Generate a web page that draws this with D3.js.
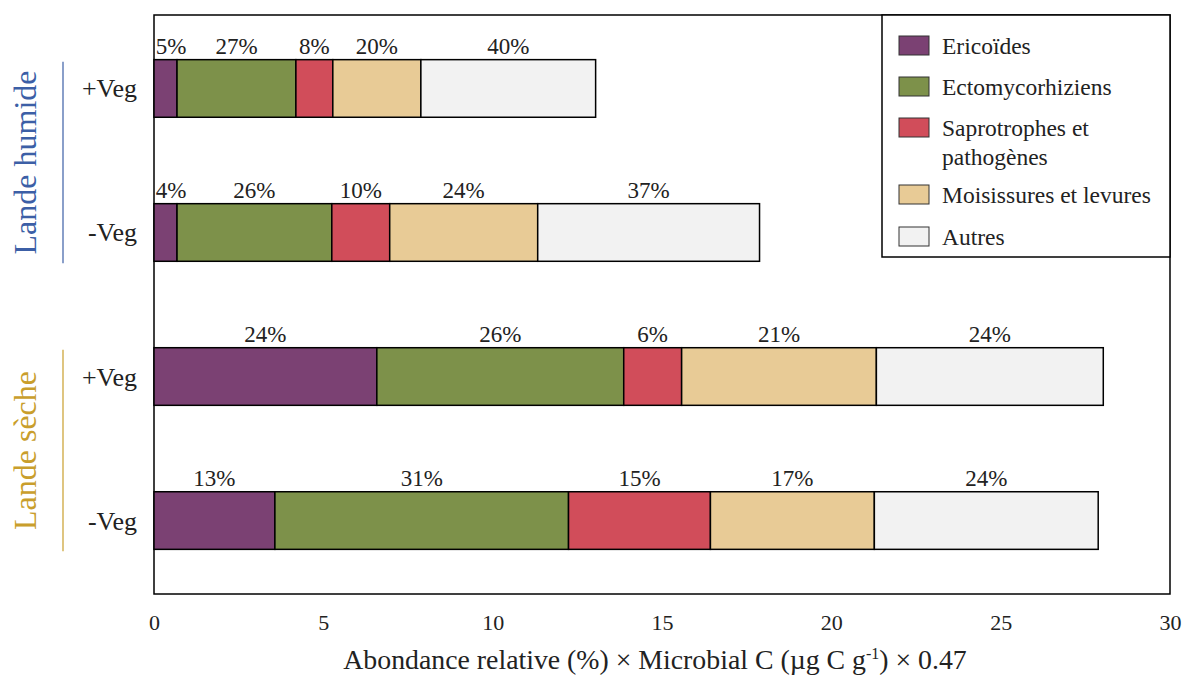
<!DOCTYPE html>
<html lang="fr">
<head>
<meta charset="UTF-8">
<title>Abondance relative</title>
<script src="https://d3js.org/d3.v7.min.js"></script>
<style>
  body { margin: 0; background: #fff; }
  svg, svg text { font-family: "Liberation Serif", "Times New Roman", serif; }
</style>
</head>
<body>
<svg id="chart" width="1185" height="675"></svg>
<script>
// categories and values
const rows = ["hum+", "hum-", "sec+", "sec-"];
const rowLabels = ["+Veg", "-Veg", "+Veg", "-Veg"];
const groups = ["Lande humide", "Lande sèche"];
const groupColors = ["#3c5fa6", "#c99e2c"];
const groupRows = [["hum+", "hum-"], ["sec+", "sec-"]];

const series = ["Ericoïdes", "Ectomycorhiziens", "Saprotrophes et pathogènes", "Moisissures et levures", "Autres"];
const colors = ["#7b4173", "#7d914a", "#d14d5a", "#e8cb96", "#f2f2f2"];

const ericoides   = [0.68, 0.68, 6.58, 3.57];
const ecto        = [3.51, 4.57, 7.29, 8.67];
const sapro       = [1.09, 1.71, 1.71, 4.19];
const moisissures = [2.60, 4.37, 5.75, 4.84];
const autres      = [5.16, 6.55, 6.70, 6.61];

const pctLabels = [
  ["5%", "27%", "8%", "20%", "40%"],
  ["4%", "26%", "10%", "24%", "37%"],
  ["24%", "26%", "6%", "21%", "24%"],
  ["13%", "31%", "15%", "17%", "24%"]
];

const xTicks = [0, 5, 10, 15, 20, 25, 30];

const svg = d3.select("#chart");
const margin = {left: 154, right: 15, top: 15, bottom: 81};
const W = 1185, H = 675;

const x = d3.scaleLinear().domain([0, 30]).range([margin.left, W - margin.right]);
const y = d3.scaleBand().domain(rows).range([margin.top, H - margin.bottom])
  .paddingInner(0.6).paddingOuter(0.31);

const table = rows.map((r, i) => ({
  row: r,
  "Ericoïdes": ericoides[i],
  "Ectomycorhiziens": ecto[i],
  "Saprotrophes et pathogènes": sapro[i],
  "Moisissures et levures": moisissures[i],
  "Autres": autres[i]
}));
const stacked = d3.stack().keys(series)(table);

// plot frame
svg.append("rect")
  .attr("x", x(0)).attr("y", margin.top)
  .attr("width", x(30) - x(0)).attr("height", H - margin.bottom - margin.top)
  .attr("fill", "none").attr("stroke", "#000").attr("stroke-width", 1.5);

// bars
const layer = svg.append("g").selectAll("g")
  .data(stacked).join("g")
  .attr("fill", (d, i) => colors[i]);

layer.selectAll("rect")
  .data(d => d)
  .join("rect")
  .attr("x", d => x(d[0]))
  .attr("y", d => y(d.data.row))
  .attr("width", d => x(d[1]) - x(d[0]))
  .attr("height", y.bandwidth())
  .attr("stroke", "#000")
  .attr("stroke-width", 1.5);

// percent labels above segments
stacked.forEach((s, si) => {
  s.forEach((d, ri) => {
    let cx = (x(d[0]) + x(d[1])) / 2;
    const txt = pctLabels[ri][si];
    const halfW = txt.length * 7;
    if (cx - halfW < x(0) + 3) cx = x(0) + 3 + halfW;
    svg.append("text")
      .attr("x", cx)
      .attr("y", y(d.data.row) - 6)
      .attr("text-anchor", "middle")
      .attr("font-size", 23)
      .attr("fill", "#222")
      .text(txt);
  });
});

// row labels
svg.append("g").selectAll("text")
  .data(rows).join("text")
  .attr("x", 137)
  .attr("y", d => y(d) + y.bandwidth() / 2 + 9)
  .attr("text-anchor", "end")
  .attr("font-size", 26)
  .attr("fill", "#222")
  .text((d, i) => rowLabels[i]);

// group labels with separator lines
groups.forEach((g, gi) => {
  const r = groupRows[gi];
  const y0 = y(r[0]), y1 = y(r[1]) + y.bandwidth();
  svg.append("line")
    .attr("x1", 63).attr("x2", 63)
    .attr("y1", y0 + 2).attr("y2", y1 + 2)
    .attr("stroke", groupColors[gi]).attr("stroke-width", 1.2);
  const cy = (y0 + y1) / 2;
  svg.append("text")
    .attr("transform", `translate(36,${cy + 2}) rotate(-90)`)
    .attr("text-anchor", "middle")
    .attr("font-size", 32)
    .attr("fill", groupColors[gi])
    .text(g);
});

// x axis labels (no tick marks)
const xAxis = svg.append("g")
  .attr("transform", `translate(0,${H - margin.bottom})`)
  .call(d3.axisBottom(x).tickValues(xTicks).tickSize(0).tickPadding(20).tickFormat(d3.format("d")));
xAxis.attr("font-family", null);
xAxis.select(".domain").remove();
xAxis.selectAll("text")
  .attr("font-size", 22)
  .attr("fill", "#222");

// x axis title
const title = svg.append("text")
  .attr("x", 655)
  .attr("y", 669)
  .attr("text-anchor", "middle")
  .attr("font-size", 27.8)
  .attr("fill", "#222");
title.append("tspan").text("Abondance relative (%) × Microbial C (µg C g");
title.append("tspan").attr("font-size", 16).attr("dy", -10).text("-1");
title.append("tspan").attr("dy", 10).text(") × 0.47");

// legend
const lg = svg.append("g").attr("transform", "translate(882,15)");
lg.append("rect").attr("width", 288).attr("height", 242)
  .attr("fill", "#fff").attr("stroke", "#000").attr("stroke-width", 1.5);
const legendY = [31, 72, 113, 180, 222];
series.forEach((s, i) => {
  lg.append("rect")
    .attr("x", 17).attr("y", legendY[i] - 10)
    .attr("width", 30).attr("height", 19)
    .attr("fill", colors[i]).attr("stroke", "#333").attr("stroke-width", 1);
  const t = lg.append("text")
    .attr("x", 60).attr("y", legendY[i] + 8)
    .attr("font-size", 23.5).attr("fill", "#222");
  if (s === "Saprotrophes et pathogènes") {
    t.append("tspan").attr("x", 60).text("Saprotrophes et");
    t.append("tspan").attr("x", 60).attr("dy", 29).text("pathogènes");
  } else {
    t.text(s);
  }
});
</script>
</body>
</html>
